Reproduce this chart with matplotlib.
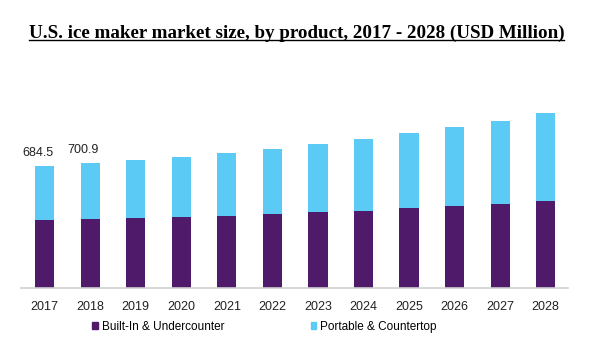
import numpy as np
import matplotlib.pyplot as plt
from matplotlib.patches import Patch

years = ["2017", "2018", "2019", "2020", "2021", "2022",
         "2023", "2024", "2025", "2026", "2027", "2028"]
built_in = [382, 388, 393, 398, 404, 415, 426, 432, 449, 460, 471, 488]
portable = [302.5, 312.9, 325, 337, 353, 365, 382, 404, 421, 443, 466, 494]
labels = {0: "684.5", 1: "700.9"}

purple = "#4e1a69"
blue = "#5bcaf5"

plt.rcParams["font.family"] = ["Liberation Sans", "DejaVu Sans"]

fig = plt.figure(figsize=(5.93, 3.54), dpi=100, facecolor="white")
ax = fig.add_axes([21 / 593, 66 / 354, 547 / 593, 178 / 354])

x = np.arange(len(years))
ax.bar(x, built_in, width=0.42, color=purple)
ax.bar(x, portable, bottom=built_in, width=0.42, color=blue)

for i, txt in labels.items():
    total = built_in[i] + portable[i]
    ax.text(x[i] - 0.15, total + 40, txt, ha="center", va="bottom",
            fontsize=9, color="#222222")

ax.set_xlim(-0.52, 11.49)
ax.set_ylim(0, 1000)
ax.set_xticks(x)
ax.set_xticklabels(years, fontsize=9, color="#222222")
ax.tick_params(axis="x", length=0, pad=9)
ax.set_yticks([])
for s in ["top", "right", "left"]:
    ax.spines[s].set_visible(False)
ax.spines["bottom"].set_color("#d0d0d0")
ax.spines["bottom"].set_linewidth(1.2)

# title with underline
title = fig.text(0.5, 1 - 33 / 354, "U.S. ice maker market size, by product, 2017 - 2028 (USD Million)",
                 ha="center", va="center", fontsize=13.7, fontweight="bold",
                 family=["Liberation Serif", "DejaVu Serif"], color="black")
fig.canvas.draw()
bb = title.get_window_extent().transformed(fig.transFigure.inverted())
fig.add_artist(plt.Line2D([bb.x0, bb.x1], [bb.y0 + 0.004, bb.y0 + 0.004],
                          transform=fig.transFigure, color="black", lw=1))

handles = [Patch(color=purple, label="Built-In & Undercounter"),
           Patch(color=blue, label="Portable & Countertop")]
fig.legend(handles=handles, loc="center", bbox_to_anchor=(0.446, 1 - 327 / 354),
           ncol=2, frameon=False, fontsize=8.5, handlelength=0.5, handleheight=0.5,
           handletextpad=0.3, columnspacing=7.3)

fig.savefig("out.png", dpi=100, facecolor="white")
